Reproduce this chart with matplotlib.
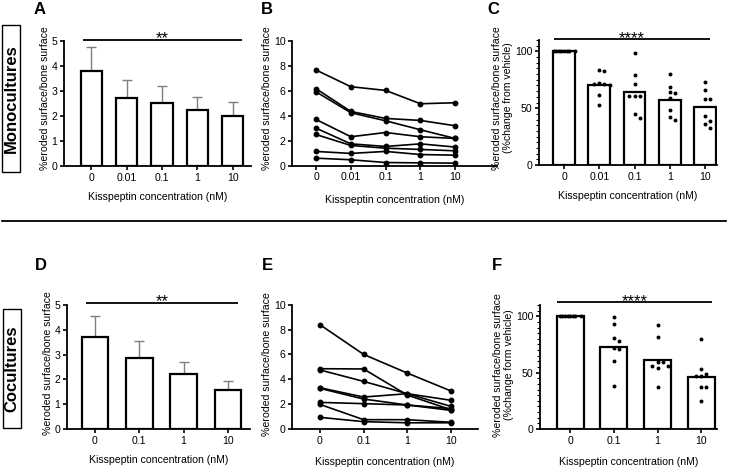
import matplotlib
matplotlib.use('Agg')
import matplotlib.pyplot as plt
import numpy as np
from matplotlib.patches import Rectangle
from matplotlib.lines import Line2D

plt.rcParams['font.family'] = ['Liberation Sans', 'DejaVu Sans']

# ---------------- data ----------------
mono_conc = ['0', '0.01', '0.1', '1', '10']
co_conc = ['0', '0.1', '1', '10']

mono_mean = [3.82, 2.72, 2.52, 2.23, 2.00]
mono_err = [0.94, 0.74, 0.70, 0.54, 0.57]

mono_subjects = [
    [7.67, 6.33, 6.03, 4.96, 5.04],
    [6.17, 4.34, 3.78, 3.62, 3.19],
    [5.92, 4.24, 3.59, 2.87, 2.17],
    [3.70, 2.31, 2.65, 2.31, 2.17],
    [3.00, 1.74, 1.53, 1.74, 1.48],
    [2.49, 1.61, 1.39, 1.29, 1.18],
    [1.13, 0.97, 1.13, 0.88, 0.83],
    [0.59, 0.46, 0.24, 0.21, 0.19],
]

mono_pct_bar = [100, 70.3, 64.4, 57.6, 51.3]
mono_pct_pts = [
    [100, 100, 100, 100, 100, 100, 100, 100],
    [84, 83, 72, 71, 71, 70, 62, 53],
    [99, 79, 71, 61, 61, 61, 45, 41],
    [80, 69, 64, 63, 59, 48, 42, 40],
    [73, 66, 58, 58, 43, 39, 36, 33],
]

co_mean = [3.70, 2.85, 2.22, 1.59]
co_err = [0.84, 0.68, 0.47, 0.33]

co_subjects = [
    [8.39, 6.00, 4.50, 3.06],
    [4.85, 4.83, 2.73, 1.55],
    [4.75, 3.83, 2.84, 1.82],
    [3.32, 2.57, 2.84, 2.31],
    [3.27, 2.41, 1.93, 1.64],
    [2.14, 2.04, 1.93, 1.50],
    [1.98, 0.75, 0.75, 0.54],
    [0.94, 0.59, 0.50, 0.50],
]

co_pct_bar = [100, 72.9, 60.9, 46.2]
co_pct_pts = [
    [100, 100, 100, 100, 100, 100, 100, 100],
    [99, 93, 81, 78, 72, 71, 60, 38],
    [92, 82, 59, 59, 56, 56, 54, 37],
    [80, 53, 49, 47, 47, 37, 37, 25],
]

xlabel = 'Kisspeptin concentration (nM)'
ylab = '%eroded surface/bone surface'

# ---------------- layout ----------------
W, H = 729, 467
fig = plt.figure(figsize=(W / 100, H / 100), dpi=100)


def rect(x0, x1, yt, yb):
    return [x0 / W, 1 - yb / H, (x1 - x0) / W, (yb - yt) / H]


FS = 7.6


def style(ax):
    for s in ['top', 'right']:
        ax.spines[s].set_visible(False)
    for s in ['left', 'bottom']:
        ax.spines[s].set_linewidth(1.3)
    ax.tick_params(direction='out', length=3.2, width=1.2, labelsize=FS, pad=1.5,
                   colors='black')


def swarm(vals, ax, d_px=5.2, max_px=21):
    """simple beeswarm horizontal offsets (data units)"""
    bb = ax.get_position()
    x0, x1 = ax.get_xlim()
    y0, y1 = ax.get_ylim()
    px_x = bb.width * W / (x1 - x0)
    px_y = bb.height * H / (y1 - y0)
    placed = []
    offs = []
    for v in vals:
        y = v * px_y
        cands = [0]
        for i in range(1, 20):
            cands += [i * d_px, -i * d_px]
        for c in cands:
            if all(np.hypot(c - px, y - py) >= d_px for px, py in placed):
                placed.append((c, y))
                offs.append(c)
                break
    offs = np.array(offs, dtype=float)
    span = offs.max() - offs.min()
    if span > max_px:
        offs = (offs - offs.min()) / span * max_px - max_px / 2
    return offs / px_x


def sig(ax, x0, x1, y, txt):
    ax.plot([x0, x1], [y, y], color='black', lw=1.3, clip_on=False,
            solid_capstyle='butt')
    ax.annotate(txt, ((x0 + x1) / 2, y), xytext=(0, -2.6),
                textcoords='offset points', ha='center', va='baseline',
                fontsize=12, annotation_clip=False)


def bar_sem(ax, means, errs, labels, xlim, ymax, yticks):
    pos = np.arange(len(means))
    ax.errorbar(pos, means, yerr=[np.zeros(len(means)), errs], fmt='none',
                ecolor='#7f7f7f', elinewidth=1.0, capsize=3.5, capthick=1.0,
                zorder=1)
    ax.bar(pos, means, width=0.6, color='white', edgecolor='black', lw=1.6,
           zorder=2)
    ax.set_xlim(*xlim)
    ax.set_ylim(0, ymax)
    ax.set_yticks(yticks)
    ax.set_xticks(pos)
    ax.set_xticklabels(labels)
    style(ax)


def lines(ax, subjects, labels, xlim):
    pos = np.arange(len(labels))
    for s in subjects:
        ax.plot(pos, s, '-o', color='black', lw=1.2, ms=3.2, clip_on=False)
    ax.set_xlim(*xlim)
    ax.set_ylim(0, 10)
    ax.set_yticks([0, 2, 4, 6, 8, 10])
    ax.set_xticks(pos)
    ax.set_xticklabels(labels)
    style(ax)


def pct(ax, bars, pts, labels, xlim):
    pos = np.arange(len(bars))
    ax.bar(pos, bars, width=0.62, color='white', edgecolor='black', lw=1.6,
           zorder=1)
    ax.set_xlim(*xlim)
    ax.set_ylim(0, 110)
    ax.set_yticks([0, 50, 100])
    ax.set_yticks(np.arange(0, 111, 5), minor=True)
    ax.set_xticks(pos)
    ax.set_xticklabels(labels)
    style(ax)
    ax.tick_params(axis='y', which='minor', length=2, width=0.8)
    ax.tick_params(axis='x', which='minor', length=0)
    for i, p in enumerate(pts):
        offs = swarm(p, ax)
        ax.scatter(pos[i] + offs, p, s=8, color='black', zorder=3,
                   linewidths=0, clip_on=False)


# ---- A ----
axA = fig.add_axes(rect(64, 251, 41, 166))
bar_sem(axA, mono_mean, mono_err, mono_conc, (-0.77, 4.52), 5, [0, 1, 2, 3, 4, 5])
sig(axA, -0.23, 4.26, 5.06, '**')
axA.set_xlabel(xlabel, fontsize=FS, labelpad=6.5)
axA.set_ylabel(ylab, fontsize=FS)

# ---- B ----
axB = fig.add_axes(rect(292, 497, 41, 165.5))
lines(axB, mono_subjects, mono_conc, (-0.69, 5.2))
axB.set_xlabel(xlabel, fontsize=FS, labelpad=9.5)
axB.set_ylabel(ylab, fontsize=FS)

# ---- C ----
axC = fig.add_axes(rect(539, 717, 40, 165))
pct(axC, mono_pct_bar, mono_pct_pts, mono_conc, (-0.71, 4.34))
sig(axC, -0.28, 4.14, 110.8, '****')
axC.set_xlabel(xlabel, fontsize=FS, labelpad=6.5)
axC.set_ylabel(ylab + '\n(%change from vehicle)', fontsize=FS, linespacing=1.1)

# ---- D ----
axD = fig.add_axes(rect(67, 250, 305, 429))
bar_sem(axD, co_mean, co_err, co_conc, (-0.63, 3.5), 5, [0, 1, 2, 3, 4, 5])
sig(axD, -0.2, 3.23, 5.1, '**')
axD.set_xlabel(xlabel, fontsize=FS, labelpad=6.5)
axD.set_ylabel(ylab, fontsize=FS)

# ---- E ----
axE = fig.add_axes(rect(292, 478, 304.7, 429))
lines(axE, co_subjects, co_conc, (-0.64, 3.62))
axE.set_xlabel(xlabel, fontsize=FS, labelpad=8.5)
axE.set_ylabel(ylab, fontsize=FS)

# ---- F ----
axF = fig.add_axes(rect(540, 717, 305, 429))
pct(axF, co_pct_bar, co_pct_pts, co_conc, (-0.69, 3.36))
sig(axF, -0.3, 3.25, 112.3, '****')
axF.set_xlabel(xlabel, fontsize=FS, labelpad=8)
axF.set_ylabel(ylab + '\n(%change form vehicle)', fontsize=FS, linespacing=1.1)

# place y labels just left of tick labels, centred at given heights
fig.canvas.draw()
rend = fig.canvas.get_renderer()
for ax, yc in [(axA, 98), (axB, 98), (axC, 98), (axD, 363), (axE, 364), (axF, 365)]:
    xs = [t.get_window_extent(rend).x0 for t in ax.get_yticklabels()
          if t.get_text()]
    xr = min(xs) - 2.0
    ax.yaxis.set_label_coords(xr / W, 1 - yc / H, transform=fig.transFigure)

# ---- panel letters ----
for lab, x, y in [('A', 40, 10), ('B', 267, 10), ('C', 493, 10),
                  ('D', 41, 266), ('E', 267, 266), ('F', 497, 266)]:
    fig.text(x / W, 1 - y / H, lab, fontsize=12, fontweight='bold',
             ha='center', va='center')

# ---- row boxes ----
for txt, x0, x1, yt, yb in [('Monocultures', 2, 20, 25, 172),
                            ('Cocultures', 3, 21, 309, 428)]:
    fig.add_artist(Rectangle((x0 / W, 1 - yb / H), (x1 - x0) / W, (yb - yt) / H,
                             transform=fig.transFigure, fill=False,
                             edgecolor='black', lw=1.0))
    fig.text((x0 + x1) / 2 / W, 1 - (yt + yb) / 2 / H, txt, rotation=90,
             fontsize=12, fontweight='bold', ha='center', va='center')

# ---- divider ----
fig.add_artist(Line2D([2 / W, 726 / W], [1 - 221 / H, 1 - 221 / H],
                      transform=fig.transFigure, color='black', lw=1.3))

fig.savefig('out.png', dpi=100)
